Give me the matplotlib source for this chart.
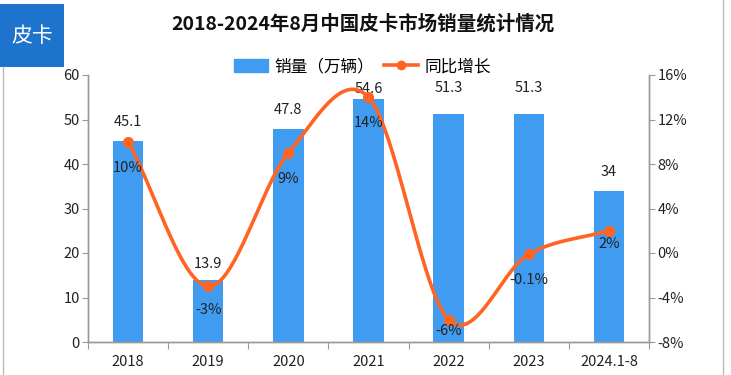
import numpy as np
import matplotlib.pyplot as plt
from matplotlib.patches import Rectangle
from matplotlib.lines import Line2D

plt.rcParams['font.family'] = ['Noto Sans CJK SC', 'DejaVu Sans']

categories = ['2018', '2019', '2020', '2021', '2022', '2023', '2024.1-8']
sales = [45.1, 13.9, 47.8, 54.6, 51.3, 51.3, 34]
yoy = [10, -3, 9, 14, -6, -0.1, 2]
yoy_labels = ['10%', '-3%', '9%', '14%', '-6%', '-0.1%', '2%']

bar_color = '#3F9CF0'
line_color = '#FF6423'
axis_color = '#999999'

# label offsets in pixels (as placed in the original)
bar_label_offsets = [19, 16, 19, 10, 26, 26, 19]
pct_label_offsets = [-26, -24, -26, -26, -11, -26, -13]


def catmull_rom(x, y, n=40):
    # smooth curve through the points
    x = np.asarray(x, float)
    y = np.asarray(y, float)
    px = np.concatenate([[2 * x[0] - x[1]], x, [2 * x[-1] - x[-2]]])
    py = np.concatenate([[2 * y[0] - y[1]], y, [2 * y[-1] - y[-2]]])
    xs, ys = [], []
    t = np.linspace(0, 1, n)
    for i in range(1, len(px) - 2):
        for arr, out in ((px, xs), (py, ys)):
            p0, p1, p2, p3 = arr[i - 1], arr[i], arr[i + 1], arr[i + 2]
            out.extend(0.5 * ((2 * p1) + (-p0 + p2) * t
                              + (2 * p0 - 5 * p1 + 4 * p2 - p3) * t ** 2
                              + (-p0 + 3 * p1 - 3 * p2 + p3) * t ** 3))
    return np.array(xs), np.array(ys)


fig = plt.figure(figsize=(7.31, 3.75), dpi=100)
ax = fig.add_axes([0.1204, 0.088, 0.7674, 0.712])
ax2 = ax.twinx()

x = np.arange(len(categories))
ax.bar(x, sales, width=0.38, color=bar_color, zorder=2)
for xi, v, off in zip(x, sales, bar_label_offsets):
    ax.annotate(f'{v:g}', (xi, v), xytext=(0, off), textcoords='offset pixels',
                ha='center', va='center', fontsize=10.5, color='#222222')

ax.set_xlim(-0.5, len(categories) - 0.5)
ax.set_ylim(0, 60)
ax.set_yticks(range(0, 61, 10))
ax.set_xticks(np.arange(-0.5, len(categories), 1))
ax.set_xticklabels([])
ax.set_xticks(x, minor=True)
ax.set_xticklabels(categories, minor=True, fontsize=10.5, color='#222222')
ax.tick_params(axis='x', which='major', length=5, color=axis_color, direction='out')
ax.tick_params(axis='x', which='minor', length=0, pad=9)
ax.tick_params(axis='y', length=4, color=axis_color, labelsize=10.5, labelcolor='#222222', pad=2)

sx, sy = catmull_rom(x, yoy)
ax2.plot(sx, sy, color=line_color, lw=2.6, zorder=3, solid_capstyle='round')
ax2.plot(x, yoy, 'o', color=line_color, ms=7, zorder=4)
for xi, v, lab, off in zip(x, yoy, yoy_labels, pct_label_offsets):
    ax2.annotate(lab, (xi, v), xytext=(0, off), textcoords='offset pixels',
                 ha='center', va='center', fontsize=10.5, color='#222222', zorder=5)
ax2.set_ylim(-8, 16)
ax2.set_yticks(range(-8, 17, 4))
ax2.set_yticklabels([f'{t}%' for t in range(-8, 17, 4)])
ax2.tick_params(axis='y', length=4, color=axis_color, labelsize=10.5, labelcolor='#222222', pad=2)

for a in (ax, ax2):
    a.spines['top'].set_visible(False)
    for s in ('left', 'right', 'bottom'):
        a.spines[s].set_color(axis_color)
        a.spines[s].set_linewidth(1)

ax.set_zorder(ax2.get_zorder() - 1)
ax2.patch.set_visible(False)

fig.text(0.497, 0.936, '2018-2024年8月中国皮卡市场销量统计情况', ha='center', va='center',
         fontsize=14, fontweight='bold', color='#111111')

# legend
handles = [Rectangle((0, 0), 1, 1, color=bar_color),
           Line2D([0], [0], color=line_color, lw=2.6, marker='o', ms=6)]
fig.legend(handles, ['销量（万辆）', '同比增长'], loc='center', bbox_to_anchor=(0.496, 0.822),
           ncol=2, frameon=False, fontsize=12, handlelength=2.0, handleheight=0.9,
           columnspacing=0.6, handletextpad=0.4, borderpad=0.1)

# tag box top left
fig.add_artist(Rectangle((0.0, 0.822), 0.088, 0.167, transform=fig.transFigure,
                         facecolor='#1E73CC', edgecolor='none'))
fig.text(0.044, 0.905, '皮卡', ha='center', va='center', fontsize=15, color='white')

# frame lines
fig.add_artist(Line2D([0.004, 0.004], [0.0, 0.822], transform=fig.transFigure,
                      color='#BBBBBB', lw=1))
fig.add_artist(Line2D([0.989, 0.989], [0.0, 1.0], transform=fig.transFigure,
                      color='#BBBBBB', lw=1))

fig.savefig('out.png', dpi=100)
